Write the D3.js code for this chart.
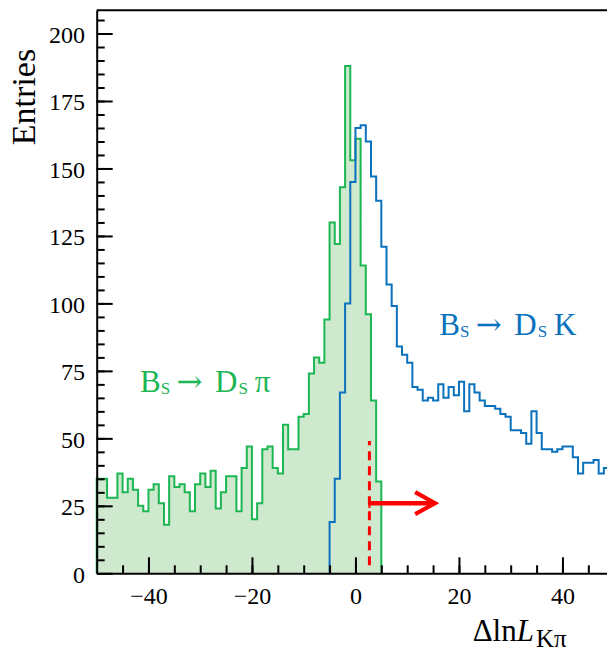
<!DOCTYPE html>
<html>
<head>
<meta charset="utf-8">
<script src="https://cdn.jsdelivr.net/npm/d3@7"></script>
<style>
  body { margin: 0; background: #fff; overflow: hidden; }
  svg { display: block; }
</style>
</head>
<body>
<div id="my_dataviz"></div>
<script>
// histogram data, unit-width bins, first bin low edge given by *Start
const piStart = -50;
const piCounts = [35, 35, 28, 28, 37, 30, 35, 31, 25, 23,
                  31, 33, 26, 18, 36, 32, 33, 30, 23, 33,
                  37, 32, 38, 24, 30, 36, 36, 23, 39, 47,
                  20, 26, 46, 47, 39, 37, 55, 46, 46, 58,
                  59, 74, 80, 78, 94, 130, 122, 143, 188, 153,
                  161, 114, 96, 64, 34];
const kStart = -5;
const kCounts = [19, 35, 67, 100, 145, 165, 166, 160, 147, 138,
                 121, 107, 99, 84, 81, 78, 69, 68, 64, 65,
                 64, 70, 65, 69, 66, 71, 60, 70, 67, 64,
                 62, 62, 61, 59, 58, 53, 53, 52, 48, 60,
                 52, 46, 46, 45, 46, 47, 47, 43, 37, 41,
                 41, 42, 37, 39];

const xTicks = [-40, -20, 0, 20, 40];
const yTicks = [0, 25, 50, 75, 100, 125, 150, 175, 200];

// selection cut
const cutValue = 2.7;
const cutLineRange = [3, 49];
const arrowEnd = 15.4;
const arrowLevel = 26;

const greenLine = "#1cb653", greenFill = "#cee9cd";
const blueLine = "#0a72bd";
const red = "#ff0000";

// set the dimensions and margins of the graph
const margin = {top: 10.3, left: 96.7, bottom: 77.7},
    width = 517.5,
    height = 651 - margin.top - margin.bottom;

const svg = d3.select("#my_dataviz")
  .append("svg")
    .attr("width", 607)
    .attr("height", 651)
    .style("font-family", "'Liberation Serif', 'Times New Roman', serif");

const g = svg.append("g")
    .attr("transform", `translate(${margin.left},${margin.top})`);

const x = d3.scaleLinear().domain([-50, 50]).range([0, width]);
const y = d3.scaleLinear().domain([0, 208.6]).range([height, 0]);

// step outline of a histogram
function steps(start, counts) {
  const pts = [[start, 0]];
  counts.forEach(function(c, i) {
    pts.push([start + i, c]);
    pts.push([start + i + 1, c]);
  });
  pts.push([start + counts.length, 0]);
  return pts;
}

const line = d3.line().x(d => x(d[0])).y(d => y(d[1]));
const area = d3.area().x(d => x(d[0])).y0(y(0)).y1(d => y(d[1]));

const piPts = steps(piStart, piCounts);
const kPts = steps(kStart, kCounts);

g.append("path")
  .attr("d", area(piPts))
  .attr("fill", greenFill);

g.append("path")
  .attr("d", line(piPts))
  .attr("fill", "none")
  .attr("stroke", greenLine)
  .attr("stroke-width", 2);

g.append("path")
  .attr("d", line(kPts))
  .attr("fill", "none")
  .attr("stroke", blueLine)
  .attr("stroke-width", 2);

// cut line and arrow
g.append("line")
  .attr("x1", x(cutValue)).attr("x2", x(cutValue))
  .attr("y1", y(cutLineRange[0])).attr("y2", y(cutLineRange[1]))
  .attr("stroke", red)
  .attr("stroke-width", 3)
  .attr("stroke-dasharray", "9,6");

g.append("line")
  .attr("x1", x(cutValue)).attr("x2", x(arrowEnd))
  .attr("y1", y(arrowLevel)).attr("y2", y(arrowLevel))
  .attr("stroke", red)
  .attr("stroke-width", 4.5);

g.append("line")
  .attr("x1", x(cutValue)).attr("x2", x(cutValue))
  .attr("y1", y(arrowLevel) - 5).attr("y2", y(arrowLevel) + 5)
  .attr("stroke", red)
  .attr("stroke-width", 2);

g.append("path")
  .attr("d", `M${x(arrowEnd) - 20},${y(arrowLevel) - 11}L${x(arrowEnd)},${y(arrowLevel)}L${x(arrowEnd) - 20},${y(arrowLevel) + 11}`)
  .attr("fill", "none")
  .attr("stroke", red)
  .attr("stroke-width", 4);

// axes: ticks point inside the frame
const fmt = d3.format("d");

g.append("g")
  .attr("transform", `translate(0,${height})`)
  .call(d3.axisBottom(x).tickValues(d3.range(-45, 50, 5)).tickSize(-8).tickFormat(""))
  .call(a => a.select(".domain").remove());

g.append("g")
  .attr("transform", `translate(0,${height})`)
  .call(d3.axisBottom(x).tickValues(xTicks).tickSize(-16).tickPadding(13.7).tickFormat(fmt).tickSizeOuter(0));

g.append("g")
  .call(d3.axisLeft(y).tickValues(d3.range(5, 210, 5)).tickSize(-8).tickFormat(""))
  .call(a => a.select(".domain").remove());

g.append("g")
  .call(d3.axisLeft(y).tickValues(yTicks).tickSize(-16).tickPadding(11.7).tickFormat(fmt).tickSizeOuter(0));

g.selectAll(".tick line, .domain")
  .attr("stroke", "#000")
  .attr("stroke-width", 2);

g.selectAll(".tick text")
  .attr("font-family", "'Liberation Serif', 'Times New Roman', serif")
  .attr("font-size", 24)
  .attr("fill", "#000");

g.selectAll(".tick text").filter(function() { return this.parentNode.parentNode.getAttribute("transform") == null; })
  .attr("dy", "0.37em");

// top frame
g.append("line")
  .attr("x1", 0).attr("x2", width)
  .attr("y1", 0).attr("y2", 0)
  .attr("stroke", "#000")
  .attr("stroke-width", 2);

// axis titles
svg.append("text")
  .attr("transform", "translate(35,97) rotate(-90)")
  .attr("text-anchor", "middle")
  .attr("font-size", 34)
  .text("Entries");

const xt = svg.append("text")
  .attr("x", 472.7)
  .attr("y", 640.7)
  .attr("font-size", 31);
xt.append("tspan").text("\u0394ln");
xt.append("tspan").attr("font-style", "italic").text("L");
xt.append("tspan").attr("x", 536).attr("dy", 6).attr("font-size", 25).text("K\u03c0");

// decay labels
function decayLabel(x0, base, color, last) {
  const t = svg.append("text")
    .attr("x", x0).attr("y", base)
    .attr("font-size", 31)
    .attr("fill", color);
  t.append("tspan").text("B");
  t.append("tspan").attr("x", x0 + 20.7).attr("dy", 2.3).attr("font-size", 17).text("S");
  t.append("tspan").attr("x", x0 + 36.5).attr("dy", -2.3)
    .attr("font-family", "'DejaVu Serif', serif").attr("font-size", 31).text("\u2192");
  t.append("tspan").attr("x", x0 + 75).text("D");
  t.append("tspan").attr("x", x0 + 98.4).attr("dy", 2.3).attr("font-size", 17).text("S");
  t.append("tspan").attr("x", x0 + 114.7).attr("dy", -2.3).text(last);
}

decayLabel(439.3, 335, blueLine, "K");
decayLabel(140, 391.7, greenLine, "\u03c0");
</script>
</body>
</html>
